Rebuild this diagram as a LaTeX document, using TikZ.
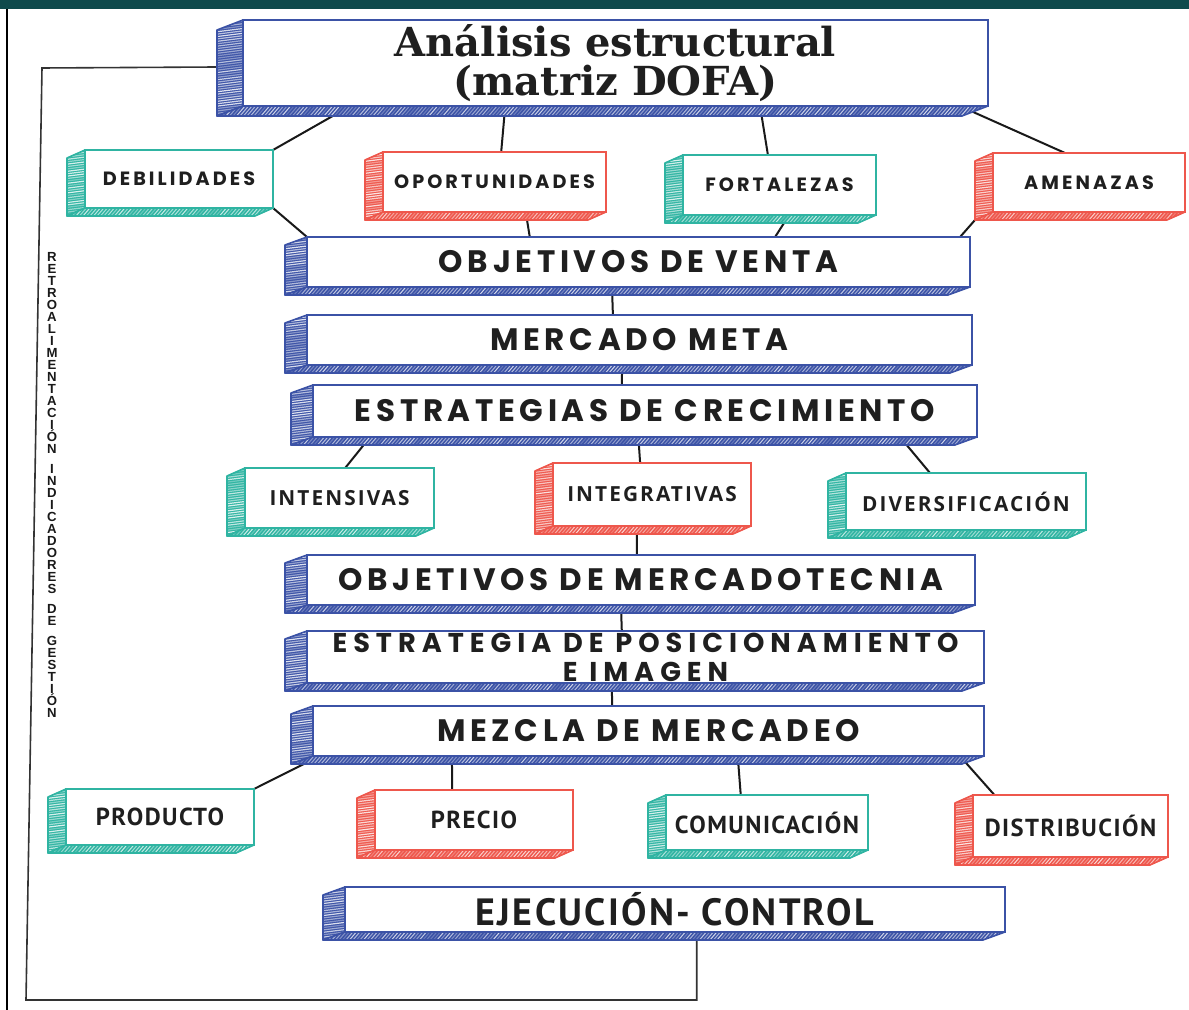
\documentclass[tikz,border=0pt]{standalone}
\usepackage{fontspec}
\setmainfont{Liberation Sans}
\newfontfamily\titlefont{DejaVu Serif}
\newfontfamily\bigfont{Poppins}[LetterSpace=15]
\newfontfamily\smallfont{Poppins}[LetterSpace=16]
\newfontfamily\midfont{Open Sans}[LetterSpace=10]
\newfontfamily\lowfont{PT Sans}[LetterSpace=6]
\usetikzlibrary{calc,backgrounds}

\definecolor{slabblue}{HTML}{3B52A6}
\definecolor{slabteal}{HTML}{2FB4A2}
\definecolor{slabred}{HTML}{EE574C}
\definecolor{topbar}{HTML}{0F4A4C}

\tikzset{
  side hatch/.style={path picture={
    \foreach \k in {0,...,48}{
      \pgfmathsetmacro\op{0.3+0.55*rnd}
      \draw[white, opacity=\op, line width=.6pt]
        ($(path picture bounding box.north west)+(-2,\k*2.4)$) -- ++(40,-5);
    }}},
  bottom hatch/.style={path picture={
    \foreach \k in {0,...,230}{
      \pgfmathsetmacro\op{0.2+0.6*rnd}
      \draw[white, opacity=\op, line width=.5pt]
        ($(path picture bounding box.south west)+(\k*3.5-12,0)$) -- ++(12,-14);
    }}},
  face/.style={fill=#1, draw=#1, line width=.8pt, line join=round},
  slab/.style={draw=#1, line width=1.3pt, fill=white, inner sep=0pt, outer sep=0pt,
    align=center, text=black!88},
  link/.style={draw=black!90, line width=1pt},
  feedback/.style={draw=black!80, line width=.8pt}
}

% left and bottom faces of a slab: node, colour, depth x, depth y
\newcommand\slabfaces[4]{%
  \path[face=#2, side hatch] (#1.north west) -- ++(-#3,#4)
    -- ($(#1.south west)+(-#3,#4)$) -- (#1.south west) -- cycle;
  \path[face=#2, bottom hatch] (#1.south west) -- ($(#1.south west)+(-#3,#4)$)
    -- ($(#1.south east)+(-#3,#4)$) -- (#1.south east) -- cycle;
}

\begin{document}
\begin{tikzpicture}[x=0.5pt, y=-0.5pt]
\pgfmathsetseed{7}
\useasboundingbox (0,0) rectangle (1189,1010);
\fill[topbar] (0,0) rectangle (1189,9);
\draw[black, line width=1pt] (7,9) -- (7,1010);

% matriz DOFA
\node[slab=slabblue, minimum width=372.5pt, minimum height=43pt, font=\titlefont\bfseries\fontsize{20}{19.5}\selectfont]
  (dofa) at (615.5,63) {Análisis estructural\\(matriz DOFA)};
\slabfaces{dofa}{slabblue}{26}{10}

\node[slab=slabteal, minimum width=94pt, minimum height=29pt, font=\smallfont\bfseries\fontsize{9.6}{11}\selectfont]
  (deb) at (179,179) {DEBILIDADES};
\slabfaces{deb}{slabteal}{18}{8}
\node[slab=slabred, minimum width=111.5pt, minimum height=30pt, font=\smallfont\bfseries\fontsize{9.6}{11}\selectfont]
  (opo) at (494.5,182) {OPORTUNIDADES};
\slabfaces{opo}{slabred}{18}{8}
\node[slab=slabteal, minimum width=96.5pt, minimum height=30pt, font=\smallfont\bfseries\fontsize{9.6}{11}\selectfont]
  (fort) at (779.5,185) {FORTALEZAS};
\slabfaces{fort}{slabteal}{18}{8}
\node[slab=slabred, minimum width=96pt, minimum height=29.5pt, font=\smallfont\bfseries\fontsize{9.6}{11}\selectfont]
  (amen) at (1089,182.5) {AMENAZAS};
\slabfaces{amen}{slabred}{18}{8}

% cadena central
\node[slab=slabblue, minimum width=331.5pt, minimum height=25pt, font=\bigfont\bfseries\fontsize{15.5}{17}\selectfont]
  (venta) at (638.5,262) {OBJETIVOS DE VENTA};
\slabfaces{venta}{slabblue}{22}{8}
\node[slab=slabblue, minimum width=332.5pt, minimum height=25pt, font=\bigfont\bfseries\fontsize{15.5}{17}\selectfont]
  (meta) at (639.5,340) {MERCADO META};
\slabfaces{meta}{slabblue}{22}{8}
\node[slab=slabblue, minimum width=332pt, minimum height=26pt, font=\bigfont\bfseries\fontsize{15.5}{17}\selectfont]
  (crec) at (645,411) {ESTRATEGIAS DE CRECIMIENTO};
\slabfaces{crec}{slabblue}{22}{8}

\node[slab=slabteal, minimum width=94.5pt, minimum height=30pt, font=\midfont\bfseries\fontsize{10.4}{12}\selectfont]
  (inten) at (339.5,498) {INTENSIVAS};
\slabfaces{inten}{slabteal}{18}{8}
\node[slab=slabred, minimum width=99pt, minimum height=31.5pt, font=\midfont\bfseries\fontsize{10.4}{12}\selectfont]
  (integ) at (652,494.5) {INTEGRATIVAS};
\slabfaces{integ}{slabred}{18}{8}
\node[slab=slabteal, minimum width=120pt, minimum height=28.5pt, font=\midfont\bfseries\fontsize{10.4}{12}\selectfont]
  (diver) at (966,501.5) {DIVERSIFICACIÓN};
\slabfaces{diver}{slabteal}{18}{8}

\node[slab=slabblue, minimum width=334pt, minimum height=25pt, font=\bigfont\bfseries\fontsize{15.5}{17}\selectfont]
  (mkt) at (641,580) {OBJETIVOS DE MERCADOTECNIA};
\slabfaces{mkt}{slabblue}{22}{8}
\node[slab=slabblue, minimum width=338.5pt, minimum height=26pt,
  font=\bigfont\bfseries\addfontfeatures{LetterSpace=22}\fontsize{13.6}{14.5}\selectfont]
  (posi) at (645.5,657) {ESTRATEGIA DE POSICIONAMIENTO\\E IMAGEN};
\slabfaces{posi}{slabblue}{22}{8}
\node[slab=slabblue, minimum width=335.5pt, minimum height=25pt, font=\bigfont\bfseries\fontsize{15.5}{17}\selectfont]
  (mezcla) at (648.5,731) {MEZCLA DE MERCADEO};
\slabfaces{mezcla}{slabblue}{22}{8}

\node[slab=slabteal, minimum width=94pt, minimum height=28pt, font=\lowfont\bfseries\fontsize{12.3}{14}\selectfont]
  (prod) at (160,817) {PRODUCTO};
\slabfaces{prod}{slabteal}{18}{8}
\node[slab=slabred, minimum width=99pt, minimum height=30pt, font=\lowfont\bfseries\fontsize{12.3}{14}\selectfont]
  (prec) at (474,820) {PRECIO};
\slabfaces{prec}{slabred}{18}{8}
\node[slab=slabteal, minimum width=101pt, minimum height=27.5pt, font=\lowfont\bfseries\fontsize{12.3}{14}\selectfont]
  (comu) at (767,822.5) {COMUNICACIÓN};
\slabfaces{comu}{slabteal}{18}{8}
\node[slab=slabred, minimum width=97.5pt, minimum height=31pt, font=\lowfont\bfseries\fontsize{12.3}{14}\selectfont]
  (dist) at (1070.5,826) {DISTRIBUCIÓN};
\slabfaces{dist}{slabred}{18}{8}

\node[slab=slabblue, minimum width=330pt, minimum height=22.5pt, font=\lowfont\bfseries\fontsize{19}{21}\selectfont]
  (ejec) at (675,909.5) {EJECUCIÓN- CONTROL};
\slabfaces{ejec}{slabblue}{22}{8}

% texto vertical
\node[inner sep=0pt, align=center, text=black!90, font=\bfseries\fontsize{6.6}{6}\selectfont]
  (retro) at (52,485) {R\\E\\T\\R\\O\\A\\L\\I\\M\\E\\N\\T\\A\\C\\I\\Ó\\N\\[4pt]
  I\\N\\D\\I\\C\\A\\D\\O\\R\\E\\S\\[4pt]D\\E\\[4pt]G\\E\\S\\T\\I\\Ó\\N};

\coordinate (fbbot) at (26,1000);
\coordinate (fbtop) at (42,68);

\begin{scope}[on background layer]
\draw[link] ($(dofa.south west)!.144!(dofa.south east)$) -- (deb.north east);
\draw[link] ($(dofa.south west)!.352!(dofa.south east)$) -- ($(opo.north west)!.53!(opo.north east)$);
\draw[link] ($(dofa.south west)!.694!(dofa.south east)$) -- ($(fort.north west)!.44!(fort.north east)$);
\draw[link] ($(dofa.south west)!.962!(dofa.south east)$) -- ($(amen.north west)!.375!(amen.north east)$);
\draw[link] (deb.south east) -- (venta.north west);
\draw[link] ($(opo.south west)!.64!(opo.south east)$) -- ($(venta.north west)!.336!(venta.north east)$);
\draw[link] ($(fort.south west)!.55!(fort.south east)$) -- ($(venta.north west)!.706!(venta.north east)$);
\draw[link] ($(amen.south west)+(-18,8)$) -- ($(venta.north west)!.985!(venta.north east)$);
\draw[link] ($(venta.south west)!.46!(venta.south east)$) -- ($(meta.north west)!.46!(meta.north east)$);
\draw[link] ($(meta.south west)!.474!(meta.south east)$) -- ($(crec.north west)!.465!(crec.north east)$);
\draw[link] ($(crec.south west)!.086!(crec.south east)$) -- ($(inten.north west)!.53!(inten.north east)$);
\draw[link] ($(crec.south west)!.49!(crec.south east)$) -- ($(integ.north west)!.44!(integ.north east)$);
\draw[link] ($(crec.south west)!.884!(crec.south east)$) -- ($(diver.north west)!.35!(diver.north east)$);
\draw[link] ($(integ.south west)!.424!(integ.south east)$) -- ($(mkt.north west)!.494!(mkt.north east)$);
\draw[link] ($(mkt.south west)!.47!(mkt.south east)$) -- ($(posi.north west)!.465!(posi.north east)$);
\draw[link] ($(posi.south west)!.45!(posi.south east)$) -- ($(mezcla.north west)!.446!(mezcla.north east)$);
\draw[link] ($(mezcla.south west)!.01!(mezcla.south east)$) -- (prod.north east);
\draw[link] ($(mezcla.south west)!.207!(mezcla.south east)$) -- ($(prec.north west)!.39!(prec.north east)$);
\draw[link] ($(mezcla.south west)!.633!(mezcla.south east)$) -- ($(comu.north west)!.37!(comu.north east)$);
\draw[link] ($(mezcla.south west)!.964!(mezcla.south east)$) -- ($(dist.north west)!.11!(dist.north east)$);
% retroalimentacion
\draw[feedback] ($(ejec.south west)!.533!(ejec.south east)$) |- (fbbot) -- (fbtop)
  -- ($(dofa.west)+(-26,4)$);
\end{scope}
\end{tikzpicture}
\end{document}
